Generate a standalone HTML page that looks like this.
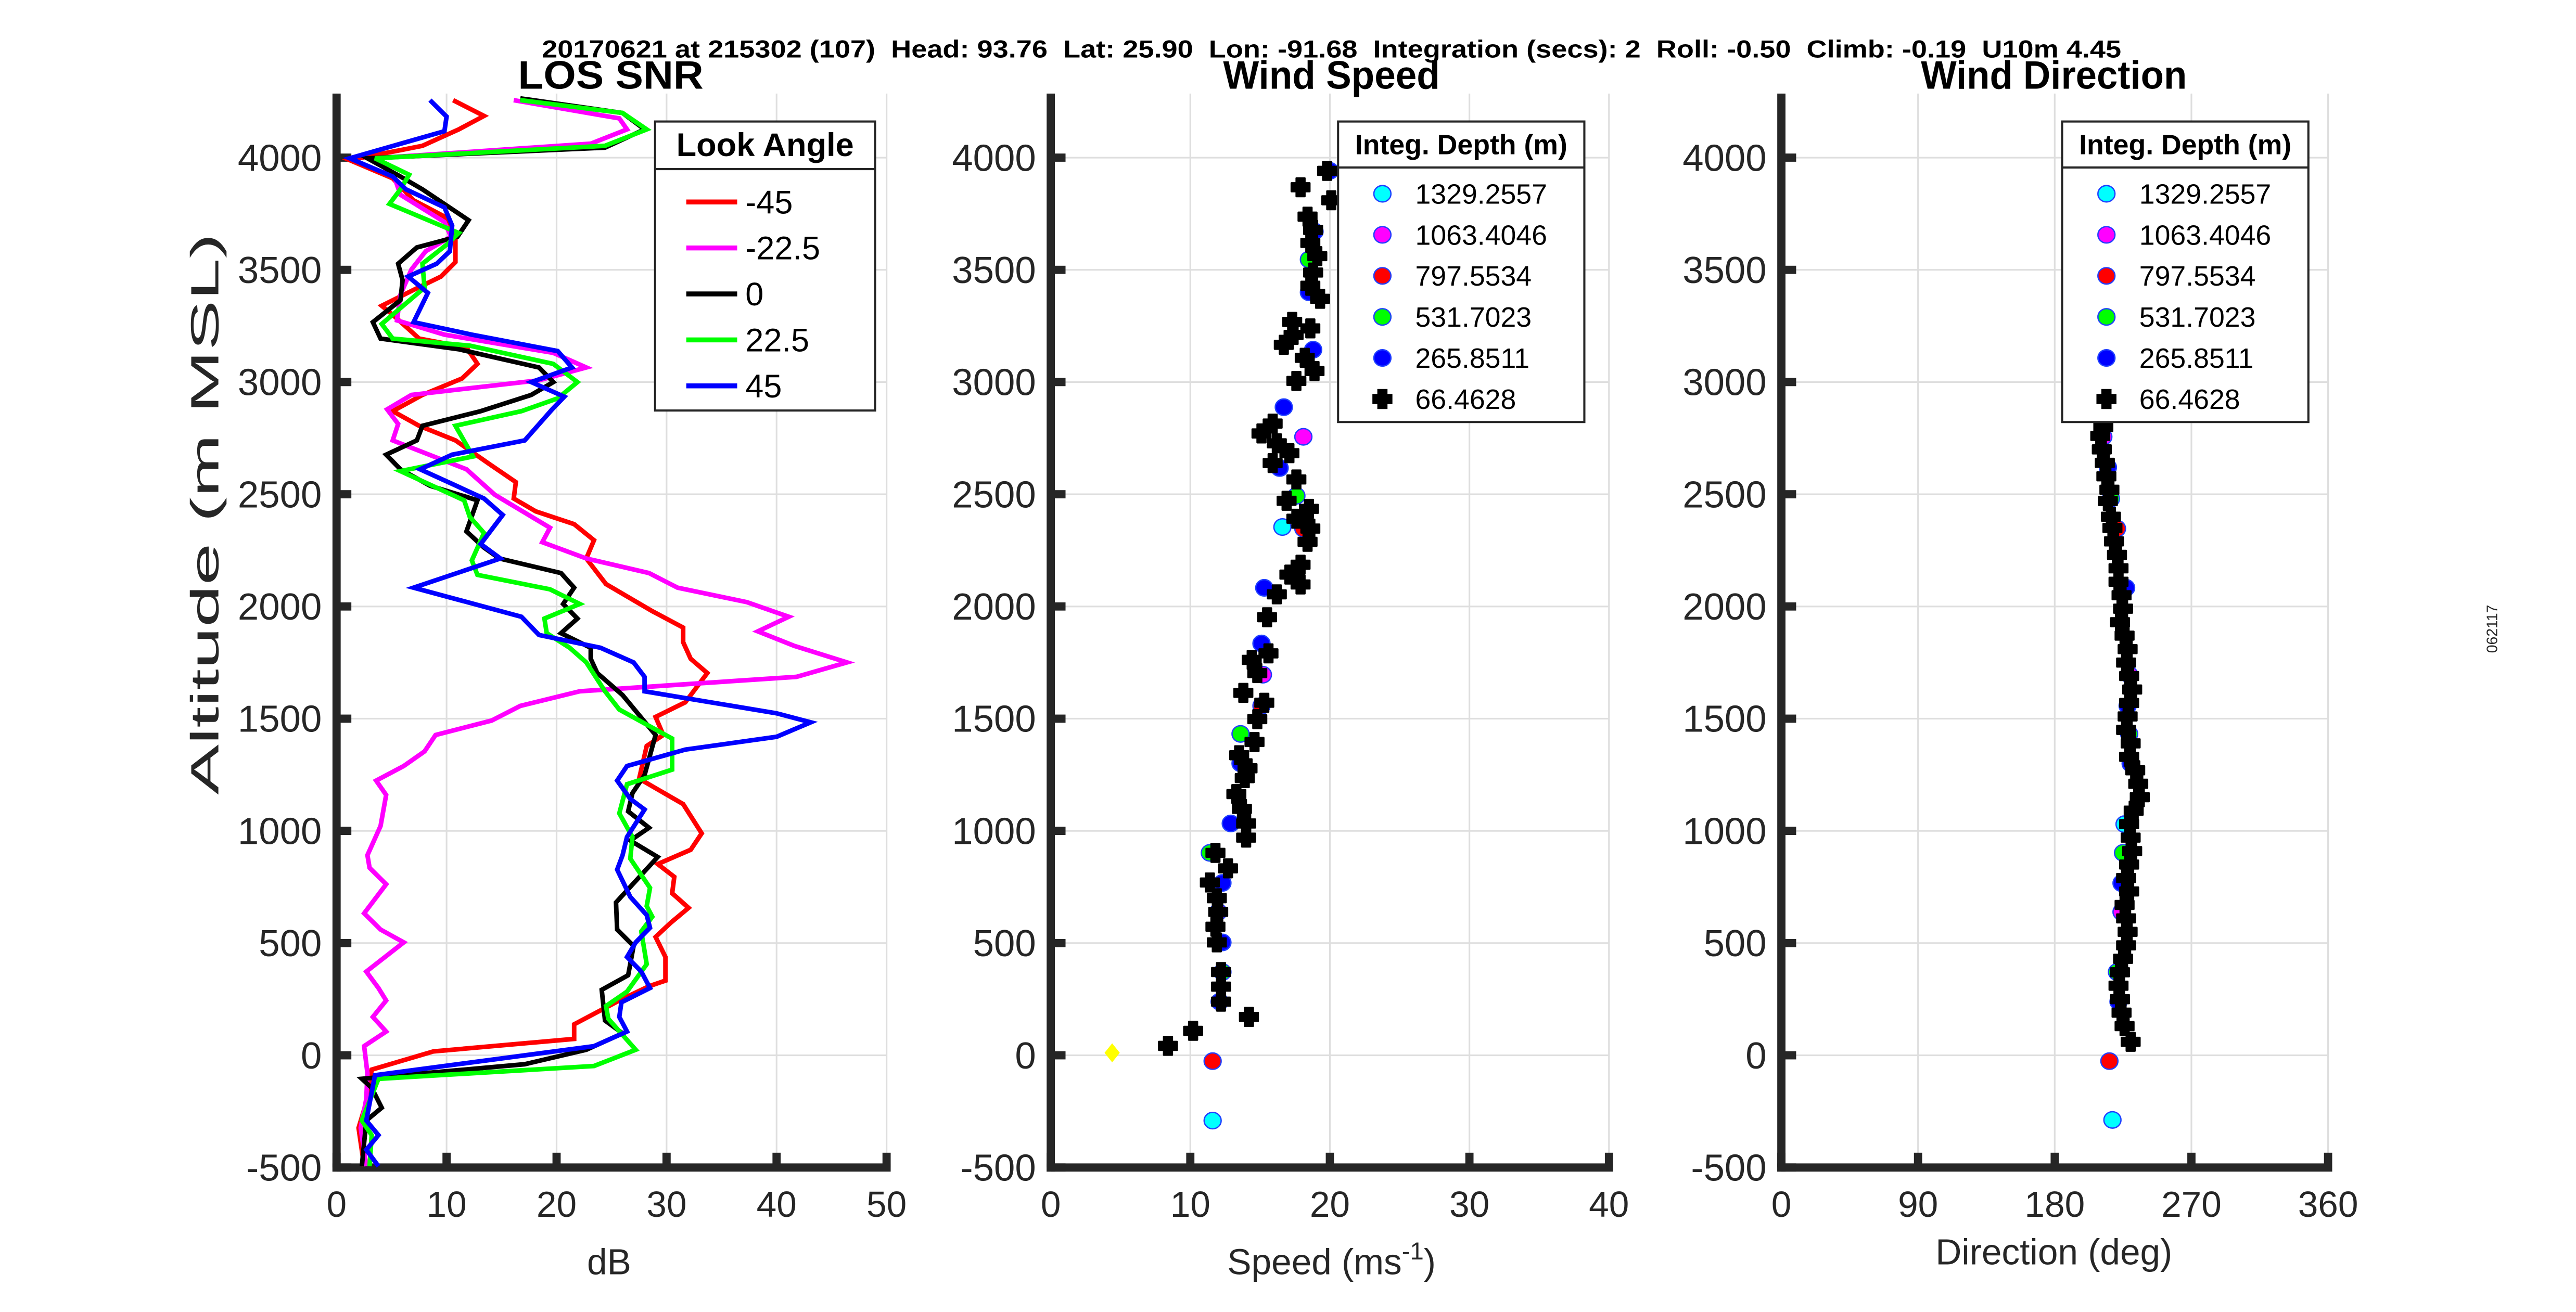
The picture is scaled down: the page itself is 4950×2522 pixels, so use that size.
<!DOCTYPE html>
<html><head><meta charset="utf-8"><style>
html,body{margin:0;padding:0;background:#fff;}
svg{display:block;font-family:"Liberation Sans",Arial,sans-serif;}
</style></head><body>
<svg id="fig" width="4950" height="2522" viewBox="0 0 1569 799" preserveAspectRatio="none" xmlns="http://www.w3.org/2000/svg">
<text x="330" y="35" font-size="15" font-weight="bold" style="white-space:pre" textLength="962" lengthAdjust="spacingAndGlyphs">20170621 at 215302 (107)  Head: 93.76  Lat: 25.90  Lon: -91.68  Integration (secs): 2  Roll: -0.50  Climb: -0.19  U10m 4.45</text>
<text x="372" y="54" font-size="24" font-weight="bold" text-anchor="middle" textLength="113" lengthAdjust="spacingAndGlyphs">LOS SNR</text>
<text x="811" y="54" font-size="24" font-weight="bold" text-anchor="middle" textLength="132" lengthAdjust="spacingAndGlyphs">Wind Speed</text>
<text x="1251" y="54" font-size="24" font-weight="bold" text-anchor="middle" textLength="162" lengthAdjust="spacingAndGlyphs">Wind Direction</text>
<text transform="translate(133,313) rotate(-90)" font-size="24" text-anchor="middle" fill="#262626" textLength="342" lengthAdjust="spacingAndGlyphs">Altitude (m MSL)</text>
<text x="371" y="776" font-size="22" text-anchor="middle" fill="#262626">dB</text>
<text x="811" y="776" font-size="22" text-anchor="middle" fill="#262626">Speed (ms<tspan dy="-9" font-size="15">-1</tspan><tspan dy="9">)</tspan></text>
<text x="1251" y="770" font-size="22" text-anchor="middle" fill="#262626">Direction (deg)</text>
<text transform="translate(1521,383) rotate(-90)" font-size="9" text-anchor="middle" fill="#262626">062117</text>
<g id="layer"></g>
</svg>
<script>
// ---------- data ----------
const altTicks=[-500,0,500,1000,1500,2000,2500,3000,3500,4000];
const snrTicks=[0,10,20,30,40,50];
const speedTicks=[0,10,20,30,40];
const dirTicks=[0,90,180,270,360];
const lookAngles=['-45','-22.5','0','22.5','45'];
const depthLabels=['1329.2557','1063.4046','797.5534','531.7023','265.8511','66.4628'];

const redAlt=[4256,4186,4126,4053,3989,3908,3810,3737,3648,3535,3470,3413,3340,3300,3194,3154,3081,3016,2943,2870,2805,2740,2627,2554,2481,2424,2367,2295,2214,2100,1979,1906,1841,1767,1703,1573,1508,1427,1378,1233,1119,989,916,852,795,722,657,592,527,438,333,308,244,138,73,17,-64,-210,-324,-494];
const redDb=[10.6,13.4,11.1,7.8,1.2,5.1,7.0,9.8,10.8,10.8,9.5,7.1,4.1,5.1,7.5,11.8,12.8,11.4,7.8,5.1,7.5,10.8,14.1,16.3,16.1,18.1,21.6,23.4,22.7,24.5,28.7,31.5,31.5,32.2,33.7,31.7,29.0,29.7,28.2,27.5,31.5,33.2,32.2,29.2,30.7,30.5,32.0,30.4,29.0,29.9,29.9,28.4,25.7,21.6,21.6,8.8,3.2,2.7,2.0,2.5];
const magAlt=[4256,4175,4126,4062,3997,3908,3835,3713,3648,3583,3502,3389,3275,3211,3130,3065,3008,2943,2878,2813,2740,2611,2497,2351,2286,2214,2149,2084,2019,1954,1889,1825,1751,1686,1622,1557,1492,1427,1354,1289,1224,1160,1022,892,835,762,633,560,503,373,300,244,171,106,41,-80,-194,-324,-494];
const magDb=[16.1,25.7,26.4,23.1,3.5,5.3,5.8,9.8,10.4,8.1,6.8,5.8,5.5,9.8,19.7,22.7,18.4,6.8,4.6,5.6,5.1,11.8,14.4,19.4,18.7,22.7,28.4,31.0,37.3,41.1,38.3,41.6,46.4,41.8,22.1,16.7,14.1,9.0,8.0,6.1,3.6,4.5,4.0,2.8,3.0,4.5,2.5,4.0,6.1,2.7,3.8,4.5,3.3,4.5,2.5,2.8,2.7,2.2,2.7];
const blkAlt=[4264,4199,4126,4045,3997,3916,3859,3721,3648,3600,3527,3454,3365,3267,3194,3146,3065,3000,2943,2870,2805,2740,2676,2611,2538,2473,2335,2262,2214,2149,2084,2011,1946,1881,1816,1767,1703,1605,1427,1249,1168,1087,1014,957,884,681,560,487,357,292,155,98,25,-40,-72,-105,-145,-234,-291,-494];
const blkDb=[16.7,26.0,28.0,24.4,2.8,5.8,7.8,12.0,11.0,7.3,5.6,6.0,5.8,3.3,4.0,11.1,18.4,19.7,17.7,13.1,7.8,7.3,4.5,5.8,8.5,12.8,11.8,13.4,14.8,20.4,21.6,20.6,21.9,20.4,23.1,23.1,23.7,26.0,29.0,28.0,26.9,26.5,28.4,26.7,29.2,25.4,25.5,27.0,26.5,24.1,24.4,26.0,22.7,17.1,9.8,2.3,3.2,4.1,2.7,2.3];
const grnAlt=[4256,4199,4126,4053,3997,3924,3859,3794,3664,3616,3527,3421,3259,3194,3162,3081,3000,2927,2870,2805,2668,2603,2473,2400,2327,2205,2141,2076,2011,1946,1881,1816,1751,1622,1541,1411,1273,1208,1078,973,876,746,665,617,552,406,284,219,163,25,-48,-105,-291,-356,-494];
const grnDb=[16.7,26.0,28.2,24.4,3.5,6.6,5.8,4.8,11.1,10.1,7.8,8.0,4.1,5.1,12.1,19.7,21.9,20.1,16.8,10.8,12.4,5.8,11.6,12.1,13.4,12.3,12.8,19.4,22.1,18.9,19.1,21.2,22.7,24.4,25.7,30.5,30.5,26.4,25.7,26.9,26.7,28.5,28.2,28.7,27.7,28.2,26.4,24.5,24.7,27.2,23.4,3.8,2.3,3.2,3.0];
const bluAlt=[4256,4183,4118,3997,3916,3859,3778,3697,3583,3527,3470,3397,3267,3211,3138,3065,3000,2935,2878,2740,2676,2611,2546,2481,2408,2278,2214,2084,1954,1873,1816,1751,1686,1622,1524,1484,1419,1362,1289,1224,1143,1095,973,892,827,706,625,568,503,438,373,300,236,171,106,41,-89,-291,-356,-421,-494];
const bluDb=[8.5,10.0,9.8,1.2,5.1,6.3,9.8,10.5,10.3,9.1,6.5,8.3,7.0,12.3,20.1,21.4,17.7,20.7,19.6,17.1,10.5,7.6,10.5,13.4,15.1,13.1,14.9,7.0,16.8,18.4,24.0,27.0,28.0,28.0,40.0,43.1,40.0,31.7,26.4,25.5,26.7,28.0,26.4,26.0,25.5,26.7,28.2,28.5,27.2,26.4,27.7,28.5,25.9,25.7,26.4,23.4,3.5,2.7,3.8,2.7,3.8];

// wind speed (m/s) by integration depth
const spdCyanAlt=[2354,-291];        const spdCyan=[16.6,11.6];
const spdMagAlt=[2756,1696,639];     const spdMag=[18.1,15.2,12.0];
const spdRedAlt=[2347,1557,-26];     const spdRed=[18.1,15.1,11.6];
const spdGrnAlt=[3546,2493,1432,902,371]; const spdGrn=[18.5,17.6,13.6,11.4,12.3];
const spdBluAlt=[3941,3671,3400,3144,2888,2617,2083,1835,1301,1033,768,503,239];
const spdBlu=[20.0,18.9,18.5,18.8,16.7,16.4,15.3,15.1,13.6,12.9,12.3,12.3,12.1];
const spdBlkAlt=[3941,3868,3810,3737,3678,3620,3561,3488,3429,3371,3268,3239,3210,3166,3108,3049,3005,2815,2771,2727,2683,2639,2566,2471,2435,2391,2347,2288,2186,2142,2098,2054,1952,1791,1762,1703,1615,1571,1498,1396,1337,1279,1235,1164,1098,1033,970,902,833,770,700,639,573,503,371,306,239,171,109,42];
const spdBlk=[19.8,17.9,20.1,18.4,18.8,18.6,19.1,18.8,18.6,19.3,17.3,18.6,17.4,16.7,18.2,18.9,17.6,15.9,15.1,16.2,17.1,15.9,17.6,16.9,18.5,17.6,18.6,18.4,17.9,17.1,17.9,16.2,15.5,15.6,14.4,14.8,13.8,15.3,14.8,14.6,13.5,14.1,13.9,13.3,13.7,14.0,14.0,11.8,12.7,11.4,11.9,12.0,11.8,11.9,12.2,12.2,12.2,14.2,10.2,8.4];
const spdSurfAlt=[11]; const spdSurf=[4.4];

// wind direction (deg)
const dirCyanAlt=[1030,-288]; const dirCyan=[226,218];
const dirMagAlt=[2756,1696,639]; const dirMag=[212,229,224];
const dirRedAlt=[2347,-26]; const dirRed=[221,216];
const dirGrnAlt=[2480,1432,902,371]; const dirGrn=[217,229,225,221];
const dirBluAlt=[2620,2083,1557,1300,767,239]; const dirBlu=[215,227,228,230,224,222];
const dirBlkAlt=[2850,2800,2760,2700,2640,2580,2520,2470,2400,2350,2290,2230,2170,2110,2050,1990,1930,1870,1810,1750,1690,1630,1570,1510,1450,1390,1330,1270,1210,1150,1090,1030,970,910,850,790,730,670,610,550,490,430,370,310,250,190,130,60];
const dirBlk=[213,212,210,211,213,214,216,215,217,218,219,221,222,222,224,225,223,226,228,227,229,231,229,228,227,230,229,233,235,236,232,229,230,231,229,227,229,226,227,228,227,225,223,222,223,224,226,230];

// ---------- drawing ----------
const NS='http://www.w3.org/2000/svg';
const layer=document.getElementById('layer');
const Y0=711, Y1=57;
function yS(a){return 711-(a+500)*(615/4500);}
function mk(tag,attrs,parent){const e=document.createElementNS(NS,tag);for(const k in attrs)e.setAttribute(k,attrs[k]);(parent||layer).appendChild(e);return e;}
function xScale(px0,px1,v0,v1){return v=>px0+(v-v0)*(px1-px0)/(v1-v0);}

function axes(name,px0,px1,ticks,xs){
  const g=mk('g',{});
  
  
  ticks.forEach(t=>{const x=xs(t);const l=mk('line',{x1:x,x2:x,y1:Y1,y2:Y0,stroke:'#dedede','stroke-width':1},g);
    });
  altTicks.forEach(t=>{const y=yS(t);const l=mk('line',{x1:px0,x2:px1,y1:y,y2:y,stroke:'#dedede','stroke-width':1},g);
    });
  altTicks.forEach(t=>{const y=yS(t);
    const r=mk('rect',{x:px0,y:y-2.5,width:9,height:5,fill:'#262626'},g);
    
    const tx=mk('text',{x:px0-9,y:y+8,'font-size':23,'text-anchor':'end',fill:'#262626'},g);tx.textContent=t;
    });
  ticks.forEach(t=>{const x=xs(t);
    const r=mk('rect',{x:x-2.5,y:Y0-9,width:5,height:9,fill:'#262626'},g);
    
    const tx=mk('text',{x:x,y:741,'font-size':22,'text-anchor':'middle',fill:'#262626'},g);tx.textContent=t;
    });
  const a=mk('line',{x1:px0,x2:px0,y1:Y1,y2:Y0+2.5,stroke:'#262626','stroke-width':5},g);
  
  const b=mk('line',{x1:px0-2.5,x2:px1+2.5,y1:Y0,y2:Y0,stroke:'#262626','stroke-width':5},g);
  
}

const xs1=xScale(205,540,0,50), xs2=xScale(640,980,0,40), xs3=xScale(1085,1418,0,360);
axes('snr',205,540,snrTicks,xs1);
axes('speed',640,980,speedTicks,xs2);
axes('direction',1085,1418,dirTicks,xs3);

const snrSeries=[[redAlt,redDb,'#ff0000'],[magAlt,magDb,'#ff00ff'],[blkAlt,blkDb,'#000000'],[grnAlt,grnDb,'#00ff00'],[bluAlt,bluDb,'#0000ff']];
snrSeries.forEach((s,i)=>{
  const pts=s[0].map((a,j)=>xs1(s[1][j]).toFixed(1)+','+yS(a).toFixed(1)).join(' ');
  const p=mk('polyline',{points:pts,fill:'none',stroke:s[2],'stroke-width':2.8,'stroke-linejoin':'miter'});
  
  
});

function circle(x,y,fill,edge,name){const c=mk('ellipse',{cx:x,cy:y,rx:5.2,ry:5,fill:fill,stroke:edge,'stroke-width':0.8});
  
  return c;}
function cross(x,y,name){const p=mk('path',{d:`M${x-5.5},${y-2.5}h3v-3h5v3h3v5h-3v3h-5v-3h-3z`,fill:'#000','stroke':'#000','stroke-width':1.2,'stroke-linejoin':'round'});
  
  return p;}

const colorSets=[['#00ffff'],['#ff00ff'],['#ff0000'],['#00ff00'],['#0000ff']];
function scatter(prefix,xs,sets,blkA,blkV){
  sets.forEach((s,i)=>{s[0].forEach((a,j)=>circle(xs(s[1][j]),yS(a),colorSets[i][0],'#1f3fff',prefix+'-point-'+depthLabels[i]));});
  blkA.forEach((a,j)=>cross(xs(blkV[j]),yS(a),prefix+'-point-66m'));
}
scatter('speed',xs2,[[spdCyanAlt,spdCyan],[spdMagAlt,spdMag],[spdRedAlt,spdRed],[spdGrnAlt,spdGrn],[spdBluAlt,spdBlu]],spdBlkAlt,spdBlk);
spdSurfAlt.forEach((a,j)=>{const x=xs2(spdSurf[j]),y=yS(a);
  const d=mk('path',{d:`M${x},${y-5}L${x+4},${y}L${x},${y+5}L${x-4},${y}Z`,fill:'#ffff00',stroke:'#ffff00'});
  
  });
scatter('direction',xs3,[[dirCyanAlt,dirCyan],[dirMagAlt,dirMag],[dirRedAlt,dirRed],[dirGrnAlt,dirGrn],[dirBluAlt,dirBlu]],dirBlkAlt,dirBlk);

// legends
function legendBox(name,x,y,w,h,title,tsize,sepY){
  const g=mk('g',{});
  
  
  mk('rect',{x:x,y:y,width:w,height:h,fill:'#fff',stroke:'#262626','stroke-width':1.3},g);
  mk('line',{x1:x,x2:x+w,y1:sepY,y2:sepY,stroke:'#262626','stroke-width':1.3},g);
  const t=mk('text',{x:x+w/2,y:sepY-8,'font-size':tsize,'font-weight':'bold','text-anchor':'middle'},g);t.textContent=title;
  return g;
}
const lg1=legendBox('look-angle-legend',399,74,134,176,'Look Angle',20,103);
lookAngles.forEach((lab,i)=>{const y=123+i*28;
  const l=mk('line',{x1:418,x2:449,y1:y,y2:y,stroke:snrSeries[i][2],'stroke-width':3},lg1);
  
  const t=mk('text',{x:454,y:y+7,'font-size':20},lg1);t.textContent=lab;
  });

[['speed-depth-legend',815],['direction-depth-legend',1256]].forEach(([nm,lx])=>{
  const g=legendBox(nm,lx,74,150,183,'Integ. Depth (m)',17,102);
  depthLabels.forEach((lab,i)=>{const y=118+i*25;const mx=lx+27;
    if(i<5){const c=mk('ellipse',{cx:mx,cy:y,rx:5.2,ry:5,fill:colorSets[i][0],stroke:'#1f3fff','stroke-width':0.8},g);
      }
    else{const p=mk('path',{d:`M${mx-5.5},${y-2.5}h3v-3h5v3h3v5h-3v3h-5v-3h-3z`,fill:'#000',stroke:'#000','stroke-width':1.2},g);
      }
    const t=mk('text',{x:lx+47,y:y+6,'font-size':17},g);t.textContent=lab;
    });
});
</script>
</body></html>
